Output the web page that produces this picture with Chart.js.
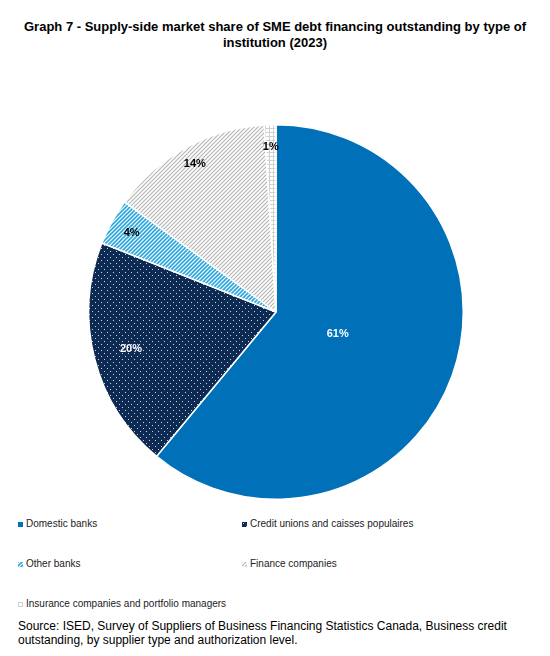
<!DOCTYPE html>
<html>
<head>
<meta charset="utf-8">
<script src="https://cdn.jsdelivr.net/npm/chart.js@4"></script>
<style>
  body { margin: 0; width: 550px; height: 656px; background: #fff; font-family: "Liberation Sans", Arial, sans-serif; position: relative; overflow: hidden; }
  #title { position: absolute; top: 19px; left: 0; width: 550px; text-align: center; font-weight: bold; font-size: 13px; line-height: 16px; color: #000; }
  #wrap { position: absolute; top: 124px; left: 1px; width: 550px; height: 376px; }
  .leg { position: absolute; font-size: 10px; color: #222; }
  .leg canvas { vertical-align: middle; margin-right: 3px; }
  #source { position: absolute; top: 619px; left: 18px; width: 525px; font-size: 12px; line-height: 14px; color: #000; }
</style>
</head>
<body>
<div id="title">Graph 7 - Supply-side market share of SME debt financing outstanding by type of<br>institution (2023)</div>
<div id="wrap"><canvas id="pie"></canvas></div>
<div id="legend"></div>
<div id="source">Source: ISED, Survey of Suppliers of Business Financing Statistics Canada, Business credit outstanding, by supplier type and authorization level.</div>
<script>
const categories = ['Domestic banks', 'Credit unions and caisses populaires', 'Other banks', 'Finance companies', 'Insurance companies and portfolio managers'];
const shares = [61, 20, 4, 14, 1];
const labelTexts = ['61%', '20%', '4%', '14%', '1%'];

// fill patterns
function makePattern(kind) {
  const c = document.createElement('canvas');
  const g = c.getContext('2d');
  if (kind === 'solid') {
    c.width = c.height = 4; g.fillStyle = '#0070b8'; g.fillRect(0, 0, 4, 4);
  } else if (kind === 'dots') {
    c.width = c.height = 6; g.fillStyle = '#0c2a52'; g.fillRect(0, 0, 6, 6);
    g.fillStyle = '#c8d2e0'; g.fillRect(1, 1, 1, 1); g.fillRect(4, 4, 1, 1);
  } else if (kind === 'blue') {
    c.width = c.height = 4; g.fillStyle = '#fff'; g.fillRect(0, 0, 4, 4);
    g.strokeStyle = '#29a8e0'; g.lineWidth = 1.6;
    g.beginPath(); g.moveTo(0, 4); g.lineTo(4, 0); g.moveTo(-1, 1); g.lineTo(1, -1); g.moveTo(3, 5); g.lineTo(5, 3); g.stroke();
  } else if (kind === 'grey') {
    c.width = c.height = 4; g.fillStyle = '#fff'; g.fillRect(0, 0, 4, 4);
    g.strokeStyle = '#b5b5b5'; g.lineWidth = 1.2;
    g.beginPath(); g.moveTo(0, 4); g.lineTo(4, 0); g.moveTo(-1, 1); g.lineTo(1, -1); g.moveTo(3, 5); g.lineTo(5, 3); g.stroke();
  } else {
    c.width = c.height = 4; g.fillStyle = '#fff'; g.fillRect(0, 0, 4, 4);
    g.fillStyle = '#d0d0d0'; g.fillRect(0, 0, 4, 1); g.fillRect(0, 0, 1, 4);
  }
  return g.createPattern(c, 'repeat');
}
const kinds = ['solid', 'dots', 'blue', 'grey', 'grid'];
const fills = kinds.map(k => makePattern(k));

// where each percentage sits along its slice radius
const labelRadius = [0.35, 0.8, 0.88, 0.9, 0.88];
const labelColors = ['#fff', '#fff', '#000', '#000', '#000'];

const sliceLabels = {
  id: 'sliceLabels',
  afterDatasetsDraw(chart) {
    const ctx = chart.ctx;
    ctx.save();
    ctx.font = 'bold 11px "Liberation Sans", Arial';
    ctx.textAlign = 'center'; ctx.textBaseline = 'middle';
    chart.getDatasetMeta(0).data.forEach((arc, i) => {
      const mid = (arc.startAngle + arc.endAngle) / 2;
      const r = arc.outerRadius * labelRadius[i];
      ctx.fillStyle = labelColors[i];
      ctx.fillText(labelTexts[i], arc.x + Math.cos(mid) * r, arc.y + Math.sin(mid) * r);
    });
    ctx.restore();
  }
};

new Chart(document.getElementById('pie'), {
  type: 'pie',
  data: {
    labels: categories,
    datasets: [{ data: shares, backgroundColor: fills, borderColor: '#fff', borderWidth: 1.5 }]
  },
  options: {
    responsive: true,
    maintainAspectRatio: false,
    animation: false,
    layout: { padding: 0 },
    plugins: { legend: { display: false }, tooltip: { enabled: false } }
  },
  plugins: [sliceLabels]
});

// legend in two columns like the original
const legend = document.getElementById('legend');
categories.forEach((name, i) => {
  const d = document.createElement('div');
  d.className = 'leg';
  d.style.left = (i % 2 ? 242 : 18) + 'px';
  d.style.top = (518 + Math.floor(i / 2) * 40) + 'px';
  const sw = document.createElement('canvas');
  sw.width = sw.height = 5;
  const g = sw.getContext('2d');
  g.fillStyle = makePattern(kinds[i]);
  g.fillRect(0, 0, 5, 5);
  d.appendChild(sw);
  d.appendChild(document.createTextNode(name));
  legend.appendChild(d);
});
</script>
</body>
</html>
